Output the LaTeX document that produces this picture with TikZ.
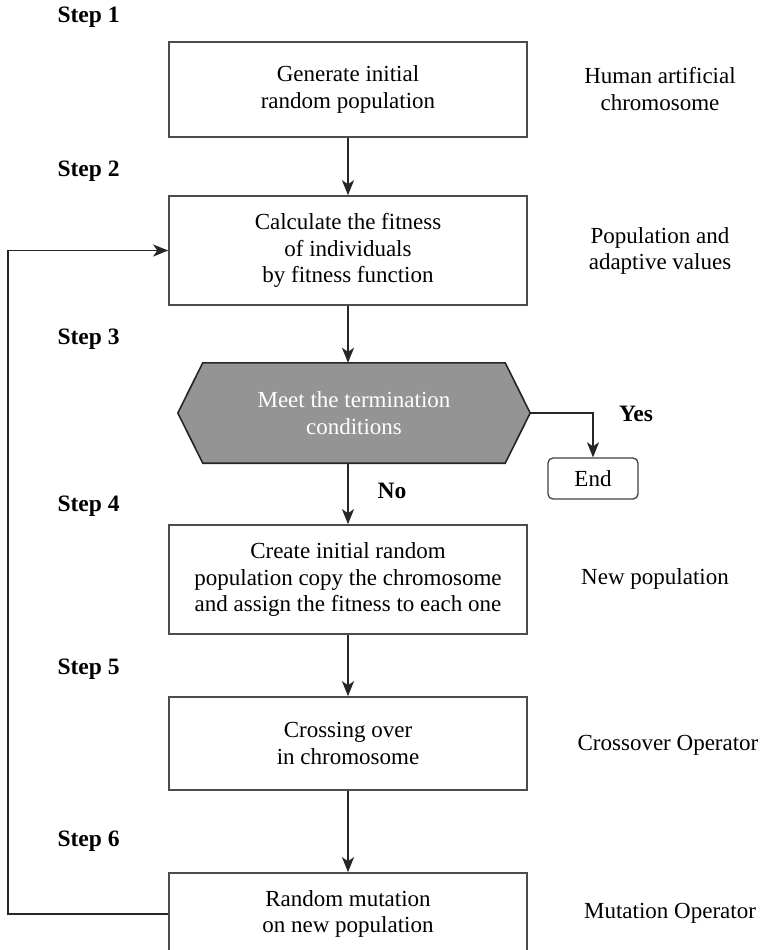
\documentclass[tikz,border=0pt]{standalone}
\usepackage{fontspec}
\setmainfont{Liberation Serif}
\usetikzlibrary{arrows.meta}
\begin{document}
\begin{tikzpicture}[x=1pt,y=-1pt,
  line/.style={draw=black!85, line width=1.6pt},
  arr/.style={line, -{Stealth[length=15pt,width=12pt,inset=4pt]}},
  box/.style={draw=black!70, line width=1.6pt, minimum width=358pt, align=center,
    font=\fontsize{23}{26.5}\selectfont, inner sep=0pt},
  lab/.style={align=center, font=\fontsize{23}{26.5}\selectfont},
  boldlab/.style={font=\bfseries\fontsize{23.5}{26}\selectfont},
  steplab/.style={anchor=west, boldlab}]
\useasboundingbox (0,0) rectangle (770,950);
\clip (0,0) rectangle (770,950);
% step labels
\node[steplab] (s1) at (54,17) {Step 1};
\node[steplab] (s2) at (54,171) {Step 2};
\node[steplab] (s3) at (54,339) {Step 3};
\node[steplab] (s4) at (54,506) {Step 4};
\node[steplab] (s5) at (54,669) {Step 5};
\node[steplab] (s6) at (54,841) {Step 6};
% boxes
\node[box, minimum height=95pt] (b1) at (348,89.5) {Generate initial\\random population};
\node[box, minimum height=109pt] (b2) at (348,250.5) {Calculate the fitness\\of individuals\\by fitness function};
\node[minimum width=352pt, minimum height=100pt, inner sep=0pt] (hex) at (354,413) {};
\filldraw[fill=black!42, draw=black!85, line width=1.6pt]
  (hex.west) -- ([xshift=25pt]hex.north west) -- ([xshift=-25pt]hex.north east)
  -- (hex.east) -- ([xshift=-25pt]hex.south east) -- ([xshift=25pt]hex.south west) -- cycle;
\node[lab, text=white] (hext) at (hex.center) {Meet the termination\\conditions};
\node[box, minimum height=109pt] (b4) at (348,579.5) {Create initial random\\population copy the chromosome\\and assign the fitness to each one};
\node[box, minimum height=93pt] (b5) at (348,743.5) {Crossing over\\in chromosome};
\node[box, minimum height=82pt] (b6) at (348,914) {Random mutation\\on new population};
\node[draw=black!75, line width=1.3pt, rounded corners=5pt, minimum width=90pt, minimum height=41pt,
  inner sep=0pt, font=\fontsize{23}{26.5}\selectfont] (end) at (593,478.5) {End};
% right labels
\node[lab] (r1) at (660,89) {Human artificial\\chromosome};
\node[lab] (r2) at (660,251) {Population and\\adaptive values};
\node[lab] (r4) at (655,579) {New population};
\node[lab] (r5) at (668,745) {Crossover Operator};
\node[lab] (r6) at (670,913) {Mutation Operator};
\node[boldlab] (yes) at (636,414) {Yes};
\node[boldlab] (no) at (392,491) {No};
% connectors
\draw[arr] (b1) -- (b2);
\draw[arr] (b2.south) -- (b2.south |- hex.north);
\draw[arr] (hex.south -| b4.north) -- (b4.north);
\draw[arr] (hex.east) -| (end.north);
\draw[arr] (b4) -- (b5);
\draw[arr] (b5) -- (b6);
\coordinate (lx) at (8,0);
\draw[arr] (b6.west) -- (b6.west -| lx) |- (b2.west);
\end{tikzpicture}
\end{document}
